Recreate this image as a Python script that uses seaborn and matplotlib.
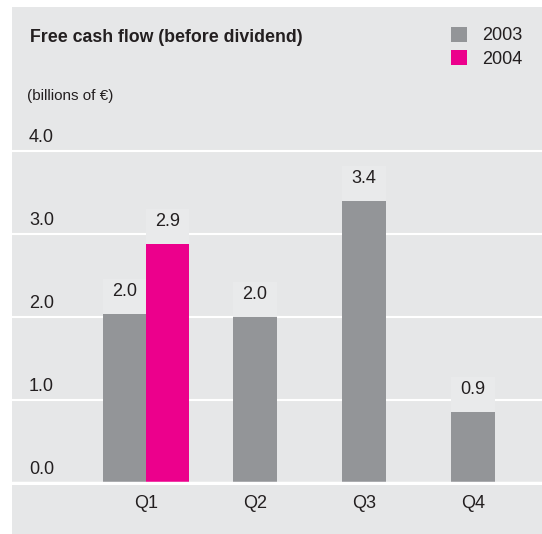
import matplotlib
matplotlib.use('Agg')
import matplotlib.pyplot as plt
import matplotlib.transforms as mtransforms
from matplotlib.patches import Rectangle, Patch
import pandas as pd
import seaborn as sns

# chart data (billions of EUR)
quarters = ['Q1', 'Q2', 'Q3', 'Q4']
years = ['2003', '2004']
fcf_2003 = [2.04, 2.0, 3.4, 0.86]
fcf_2004 = [2.88, None, None, None]
y_ticks = [0.0, 1.0, 2.0, 3.0, 4.0]

BG = '#e6e7e8'
BOX = '#e9eaeb'
GRAY = '#939598'
PINK = '#ec008c'
TXT = '#231f20'

rows = []
for q, a, b in zip(quarters, fcf_2003, fcf_2004):
    rows.append({'quarter': q, 'year': '2003', 'value': a})
    if b is not None:
        rows.append({'quarter': q, 'year': '2004', 'value': b})
df = pd.DataFrame(rows)

sns.set_theme(style='white')
plt.rcParams['font.family'] = ['Liberation Sans', 'DejaVu Sans']

fig = plt.figure(figsize=(5.42, 5.34), dpi=100)
fig.patch.set_facecolor('white')
fig.add_artist(Rectangle((12 / 542, 0), 1 - 12 / 542, 527 / 534,
                         transform=fig.transFigure, facecolor=BG,
                         edgecolor='none', zorder=0))

ax = fig.add_axes([12 / 542, 0.0918, 1 - 12 / 542, 0.725 - 0.0918])
ax.set_facecolor('none')

sns.barplot(data=df, x='quarter', y='value', hue='year', order=quarters,
            hue_order=years, palette={'2003': GRAY, '2004': PINK},
            width=0.79, saturation=1, dodge=True, errorbar=None,
            legend=False, ax=ax, zorder=2, linewidth=0, edgecolor='none')

# quarters with only one year: center the single bar on the tick
has_2004 = [b is not None for b in fcf_2004]
for p in ax.containers[0]:
    idx = int(round(p.get_x() + p.get_width()))
    if not has_2004[idx]:
        p.set_x(p.get_x() + p.get_width() / 2)

# value labels with light boxes above bars
for p in list(ax.patches):
    h = p.get_height()
    if h is None or h != h or h == 0:
        continue
    ax.add_patch(Rectangle((p.get_x(), h), p.get_width(), 0.42,
                           facecolor=BOX, edgecolor='none', zorder=2.5))
    ax.text(p.get_x() + p.get_width() / 2, h + 0.27, f'{h:.1f}',
            ha='center', va='center', fontsize=13, color=TXT, zorder=4)

ax.set_xlim(-1.229, 3.633)
ax.set_ylim(-0.02, 4.05)
ax.set_yticks(y_ticks)
ax.set_yticklabels([])
ax.yaxis.grid(True, color='white', linewidth=1.5)
ax.set_axisbelow(True)
ax.axhline(0, color='white', linewidth=2.5, zorder=3)
for s in ax.spines.values():
    s.set_visible(False)
ax.tick_params(axis='x', length=0, pad=7.2, labelsize=13, labelcolor=TXT)
ax.tick_params(axis='y', length=0)
ax.set_xlabel('')
ax.set_ylabel('')

# y tick labels sit above their gridlines
ytrans = mtransforms.offset_copy(ax.get_yaxis_transform(), fig=fig,
                                 x=0, y=9, units='dots')
for v in y_ticks:
    ax.text(17 / 530, v, f'{v:.1f}', transform=ytrans, ha='left',
            va='baseline', fontsize=13, color=TXT)

fig.text(30 / 542, 0.921, 'Free cash flow (before dividend)',
         fontsize=12.8, fontweight='bold', color=TXT, va='baseline')
fig.text(27 / 542, 0.8127, '(billions of €)', fontsize=11, color=TXT,
         va='baseline')

handles = [Patch(facecolor=GRAY, edgecolor='none'),
           Patch(facecolor=PINK, edgecolor='none')]
fig.legend(handles, years, loc='upper left', bbox_to_anchor=(451 / 542, 0.950),
           frameon=False, borderpad=0, borderaxespad=0, handlelength=0.886,
           handleheight=0.886, handletextpad=0.83, labelspacing=0.34,
           fontsize=13, labelcolor=TXT)

fig.savefig('out.png', dpi=100)
